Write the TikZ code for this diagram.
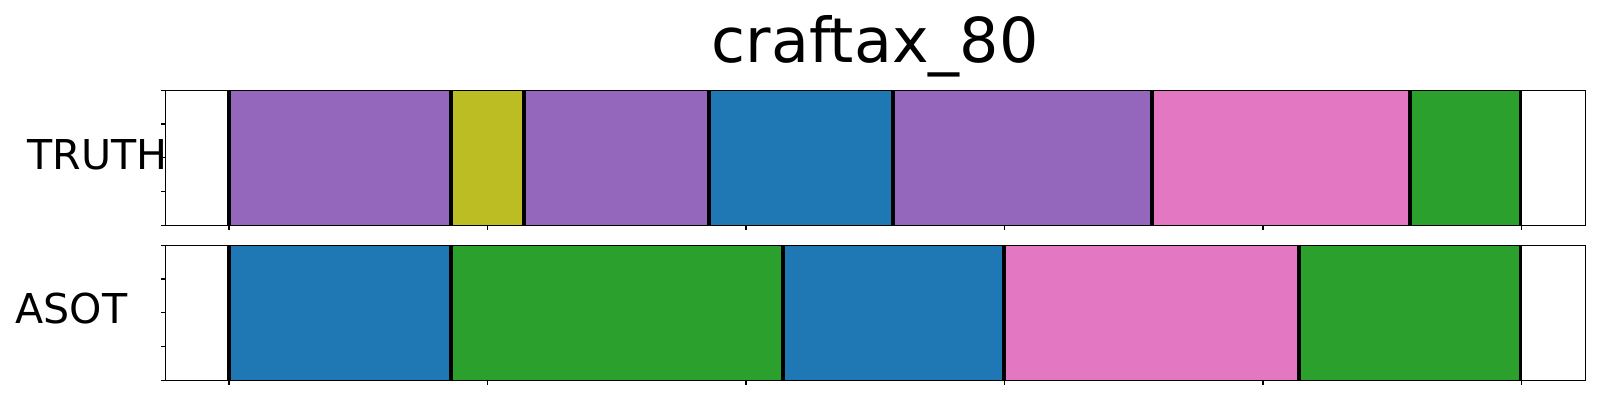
\documentclass[tikz,border=0pt]{standalone}
\usepackage{fontspec}
\setmainfont{DejaVu Sans}
\usepackage{tikz}
\definecolor{tabpurple}{HTML}{9467BD}
\definecolor{tabolive}{HTML}{BCBD22}
\definecolor{tabblue}{HTML}{1F77B4}
\definecolor{tabgreen}{HTML}{2CA02C}
\definecolor{tabpink}{HTML}{E377C2}
\tikzset{
  frame/.style={draw=black, line width=0.32pt},
  cut/.style={draw=black, line width=1.1pt},
  tick/.style={draw=black, line width=0.32pt}
}

\begin{document}
\begin{tikzpicture}[x=0.01cm, y=-0.01cm]
   \useasboundingbox (0,0) rectangle (1600,400);

   % truth row
   \foreach \a/\b/\c in {229/450.7/tabpurple, 450.7/523.7/tabolive, 523.7/708.7/tabpurple,
                         708.7/892.7/tabblue, 892.7/1151.7/tabpurple, 1151.7/1410/tabpink,
                         1410/1520.5/tabgreen}
      \fill[\c] (\a,90.3) rectangle (\b,225.3);
   \foreach \a in {229, 450.7, 523.7, 708.7, 892.7, 1151.7, 1410, 1520.5}
      \draw[cut] (\a,90.3) -- (\a,225.3);
   \draw[frame] (165.7,90.3) rectangle (1585.7,225.3);

   % asot row
   \foreach \a/\b/\c in {229/450.7/tabblue, 450.7/782.7/tabgreen, 782.7/1003.7/tabblue,
                         1003.7/1299/tabpink, 1299/1520.5/tabgreen}
      \fill[\c] (\a,245.3) rectangle (\b,380.3);
   \foreach \a in {229, 450.7, 782.7, 1003.7, 1299, 1520.5}
      \draw[cut] (\a,245.3) -- (\a,380.3);
   \draw[frame] (165.7,245.3) rectangle (1585.7,380.3);

   % ticks
   \foreach \x in {229, 487.5, 746, 1004.5, 1263, 1521.3} {
      \draw[tick] (\x,225.3) -- (\x,230.3);
      \draw[tick] (\x,380.3) -- (\x,385.3);
   }
   \foreach \y in {0, 33.75, 67.5, 101.25, 135} {
      \draw[tick] (165.7,90.3+\y) -- (161.2,90.3+\y);
      \draw[tick] (165.7,245.3+\y) -- (161.2,245.3+\y);
   }

   \node[inner sep=0, anchor=base, font=\fontsize{17.6pt}{21pt}\selectfont] (title) at (875,62.3) {craftax\_80};
   \node[inner sep=0, font=\fontsize{11.7pt}{14pt}\selectfont] (truth) at (97.5,154.5) {TRUTH};
   \node[inner sep=0, font=\fontsize{11.7pt}{14pt}\selectfont] (asot) at (71.3,308.3) {ASOT};
\end{tikzpicture}
\end{document}
